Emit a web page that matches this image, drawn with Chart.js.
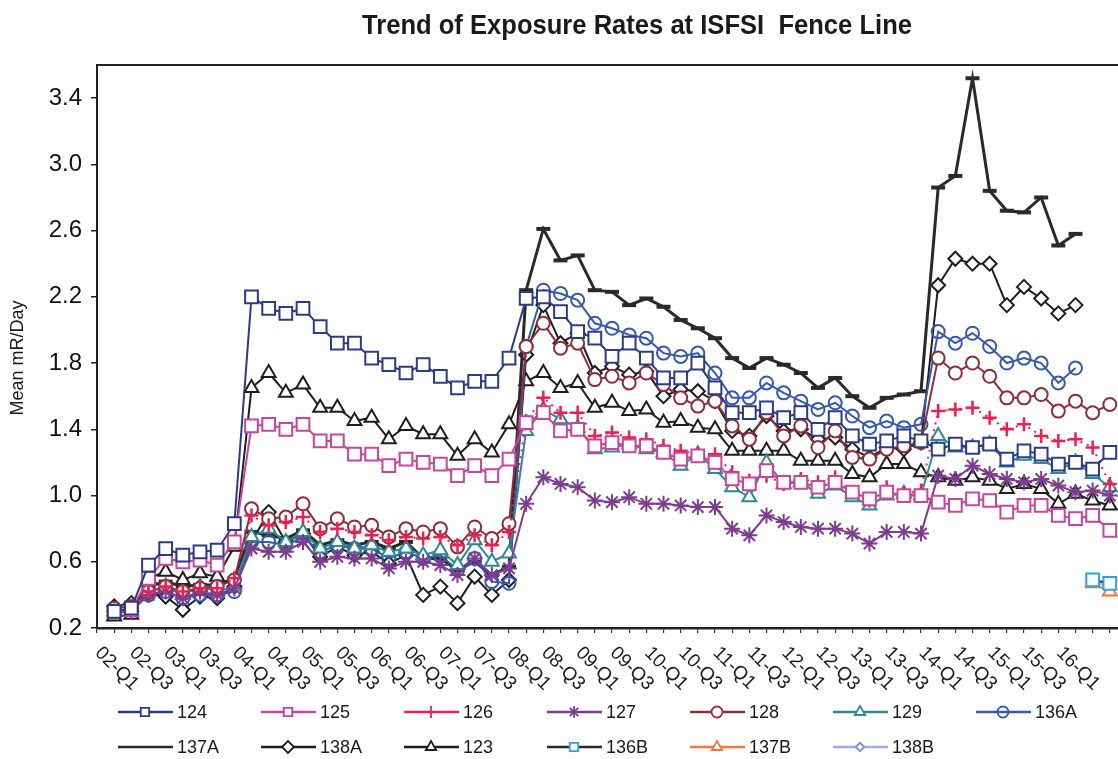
<!DOCTYPE html>
<html>
<head>
<meta charset="utf-8">
<script src="https://cdn.jsdelivr.net/npm/chart.js@4.4.1/dist/chart.umd.min.js"></script>
<style>
  html, body { margin: 0; padding: 0; background: #fff; overflow: hidden; }
  #wrap { position: relative; width: 1140px; height: 759px; }
</style>
</head>
<body>
<div id="wrap"><canvas id="chart"></canvas></div>
<script>
const chartTitle = 'Trend of Exposure Rates at ISFSI  Fence Line';
const yTitle = 'Mean mR/Day';

const quarters = [
  '02-Q1','02-Q2','02-Q3','02-Q4','03-Q1','03-Q2','03-Q3','03-Q4',
  '04-Q1','04-Q2','04-Q3','04-Q4','05-Q1','05-Q2','05-Q3','05-Q4',
  '06-Q1','06-Q2','06-Q3','06-Q4','07-Q1','07-Q2','07-Q3','07-Q4',
  '08-Q1','08-Q2','08-Q3','08-Q4','09-Q1','09-Q2','09-Q3','09-Q4',
  '10-Q1','10-Q2','10-Q3','10-Q4','11-Q1','11-Q2','11-Q3','11-Q4',
  '12-Q1','12-Q2','12-Q3','12-Q4','13-Q1','13-Q2','13-Q3','13-Q4',
  '14-Q1','14-Q2','14-Q3','14-Q4','15-Q1','15-Q2','15-Q3','15-Q4',
  '16-Q1','16-Q2','16-Q3','16-Q4','17-Q1'
];
const shownTicks = [
  '02-Q1','02-Q3','03-Q1','03-Q3','04-Q1','04-Q3','05-Q1','05-Q3','06-Q1','06-Q3',
  '07-Q1','07-Q3','08-Q1','08-Q3','09-Q1','09-Q3','10-Q1','10-Q3','11-Q1','11-Q3',
  '12-Q1','12-Q3','13-Q1','13-Q3','14-Q1','14-Q3','15-Q1','15-Q3','16-Q1'
];
const yTicks = [0.2, 0.6, 1.0, 1.4, 1.8, 2.2, 2.6, 3.0, 3.4];

// station series, one value per quarter (null = no reading)
const s124 = [null,
  0.30,0.32,0.58,0.68,0.64,0.66,0.67,0.83,
  2.20,2.13,2.10,2.13,2.02,1.92,1.92,1.83,1.79,1.74,1.79,1.72,1.65,1.69,1.69,
  1.83,2.19,2.20,2.11,1.99,1.95,1.84,1.92,1.83,1.71,1.71,1.80,1.65,1.50,1.50,1.53,1.47,1.50,1.40,1.47,1.36,1.31,1.33,1.36,1.33,
  1.28,1.31,1.29,1.31,1.22,1.27,1.25,1.19,1.20,1.16,1.26, null];
const s125 = [null,
  0.30,0.31,0.50,0.62,0.60,0.61,0.58,0.72,
  1.42,1.43,1.40,1.43,1.33,1.33,1.25,1.25,1.18,1.22,1.20,1.19,1.12,1.18,1.12,
  1.22,1.44,1.50,1.39,1.40,1.30,1.32,1.30,1.30,1.26,1.22,1.24,1.20,1.10,1.07,1.15,1.08,1.08,1.05,1.08,1.02,0.98,1.02,1.00,1.00,
  0.96,0.94,0.98,0.97,0.90,0.94,0.94,0.88,0.86,0.88,0.79, null];
const s126 = [null,
  0.30,0.31,0.42,0.45,0.42,0.44,0.44,0.50,
  0.88,0.82,0.84,0.87,0.78,0.80,0.78,0.76,0.73,0.75,0.74,0.75,0.70,0.76,0.70,
  0.78,1.45,1.59,1.50,1.50,1.36,1.38,1.35,1.34,1.30,1.27,1.25,1.25,1.14,1.09,1.12,1.07,1.10,1.08,1.11,1.02,0.97,1.05,1.01,1.03,
  1.51,1.52,1.53,1.47,1.40,1.43,1.36,1.33,1.34,1.29,1.07, null];
const s127 = [null,
  0.30,0.30,0.40,0.42,0.38,0.42,0.40,0.44,
  0.68,0.66,0.66,0.72,0.60,0.63,0.62,0.62,0.56,0.60,0.60,0.58,0.52,0.62,0.52,
  0.56,0.95,1.11,1.07,1.05,0.97,0.96,0.99,0.95,0.95,0.94,0.93,0.93,0.80,0.76,0.88,0.84,0.81,0.80,0.80,0.77,0.71,0.78,0.78,0.77,
  1.12,1.10,1.18,1.13,1.10,1.08,1.10,1.06,1.02,1.03,1.00, null];
const s128 = [null,
  0.32,0.33,0.42,0.45,0.42,0.44,0.45,0.49,
  0.92,0.86,0.87,0.95,0.80,0.86,0.81,0.82,0.75,0.80,0.78,0.80,0.69,0.81,0.74,
  0.83,1.90,2.04,1.89,1.92,1.70,1.72,1.68,1.74,1.67,1.59,1.54,1.57,1.42,1.34,1.50,1.36,1.42,1.29,1.39,1.23,1.22,1.28,1.30,1.32,
  1.83,1.74,1.80,1.72,1.59,1.59,1.61,1.51,1.57,1.50,1.55, null];
const s129 = [null,
  0.30,0.30,0.42,0.45,0.40,0.45,0.42,0.45,
  0.75,0.80,0.72,0.78,0.68,0.72,0.68,0.70,0.66,0.68,0.64,0.67,0.58,0.73,0.60,
  0.65,1.39,1.52,1.46,1.41,1.28,1.29,1.31,1.28,1.26,1.18,1.25,1.16,1.05,0.99,1.20,1.07,1.08,1.01,1.06,0.99,0.94,1.00,1.01,1.00,
  1.36,1.29,1.29,1.31,1.20,1.24,1.22,1.16,1.20,1.13,1.05, null];
const s136A = [null,
  0.30,0.32,0.40,0.42,0.38,0.40,0.40,0.42,
  0.72,0.72,0.70,0.75,0.66,0.70,0.68,0.68,0.62,0.66,0.62,0.64,0.55,0.62,0.48,
  0.47,1.90,2.24,2.22,2.18,2.04,2.01,1.97,1.95,1.86,1.84,1.86,1.74,1.59,1.59,1.68,1.62,1.57,1.52,1.56,1.48,1.41,1.45,1.41,1.43,
  1.99,1.92,1.98,1.90,1.80,1.83,1.80,1.68,1.77, null, null, null];
const s137A = [null,
  0.30,0.30,0.45,0.48,0.45,0.46,0.46,0.50,
  0.78,0.76,0.74,0.79,0.70,0.73,0.70,0.72,0.68,0.72,0.62,0.62,0.55,0.60,0.52,
  0.57,2.24,2.61,2.42,2.45,2.24,2.23,2.15,2.19,2.14,2.06,2.01,1.95,1.83,1.77,1.83,1.79,1.74,1.65,1.71,1.60,1.53,1.59,1.61,1.63,
  2.86,2.93,3.52,2.84,2.72,2.71,2.80,2.51,2.58, null, null, null];
const s138A = [null,
  0.33,0.35,0.41,0.39,0.31,0.39,0.38,0.45,
  0.72,0.90,0.72,0.77,0.63,0.69,0.64,0.66,0.59,0.64,0.40,0.45,0.35,0.51,0.40,
  0.49,1.85,2.15,1.92,1.98,1.74,1.78,1.73,1.75,1.60,1.64,1.63,1.57,1.39,1.36,1.48,1.39,1.40,1.34,1.35,1.28,1.23,1.29,1.28,1.32,
  2.27,2.43,2.40,2.40,2.15,2.26,2.19,2.10,2.15, null, null, null];
const s123 = [null,
  0.27,0.28,0.50,0.54,0.49,0.53,0.51,0.69,
  1.65,1.74,1.62,1.67,1.53,1.53,1.45,1.47,1.34,1.42,1.37,1.37,1.24,1.34,1.26,
  1.43,1.69,1.74,1.65,1.68,1.53,1.56,1.51,1.52,1.44,1.45,1.41,1.40,1.27,1.27,1.27,1.27,1.21,1.21,1.21,1.13,1.11,1.19,1.19,1.14,
  1.11,1.09,1.11,1.09,1.04,1.07,1.04,0.95,1.01,0.97,0.94, null];
// new stations, only the last two quarters
const lateQuarters = ['16-Q3', '16-Q4'];
const s136B = [0.49, 0.47];
const s137B = [0.47, 0.42];
const s138B = [0.49, 0.44];

function late(values) {
  return values.map((v, i) => ({ x: lateQuarters[i], y: v }));
}

function series(label, data, color, pointStyle, radius, extra) {
  return Object.assign({
    label: label,
    data: data,
    borderColor: color,
    borderWidth: 2,
    pointStyle: pointStyle,
    pointRadius: radius,
    pointBorderColor: color,
    pointBackgroundColor: '#ffffff',
    pointBorderWidth: 2,
    fill: false,
    tension: 0,
    spanGaps: false
  }, extra || {});
}

const datasets = [
  series('124', s124, '#2c3a8a', 'rect', 9),
  series('125', s125, '#c9449c', 'rect', 9),
  series('126', s126, '#ee1f4f', 'cross', 7, { borderDash: [2, 5], pointBorderWidth: 2.5 }),
  series('127', s127, '#7d3c90', 'star', 8),
  series('128', s128, '#8f2c3c', 'circle', 6.5),
  series('129', s129, '#2b8a92', 'triangle', 8),
  series('136A', s136A, '#3558b0', 'circle', 6.5, { pointBackgroundColor: 'rgba(0,0,0,0)' }),
  series('137A', s137A, '#2a2a2a', 'line', 7, { borderWidth: 3, pointBorderWidth: 4 }),
  series('138A', s138A, '#1e1e1e', 'rectRot', 7),
  series('123', s123, '#1e1e1e', 'triangle', 8),
  series('136B', late(s136B), '#2a2a2a', 'rect', 9, { pointBorderColor: '#2aa3e2' }),
  series('137B', late(s137B), '#f2773a', 'triangle', 8),
  series('138B', late(s138B), '#a3a8dc', 'rectRot', 5, { pointBorderColor: '#7f8ed0' })
];

const FONT = '"Liberation Sans", Arial, sans-serif';

const decorations = {
  id: 'decorations',
  afterDraw(chart) {
    const ctx = chart.ctx;
    const area = chart.chartArea;
    const xs = chart.scales.x;
    ctx.save();

    // top and right frame of the plot area
    ctx.strokeStyle = '#222';
    ctx.lineWidth = 2;
    ctx.beginPath();
    ctx.moveTo(area.left, area.top);
    ctx.lineTo(area.right, area.top);
    ctx.lineTo(area.right, area.bottom);
    ctx.stroke();

    // title, squeezed like a narrow face
    ctx.fillStyle = '#1a1a1a';
    ctx.font = 'bold 27px ' + FONT;
    const tw = ctx.measureText(chartTitle).width;
    ctx.save();
    ctx.translate(637, 34);
    ctx.scale(550 / tw, 1);
    ctx.textAlign = 'center';
    ctx.textBaseline = 'alphabetic';
    ctx.fillText(chartTitle, 0, 0);
    ctx.restore();

    // y axis title
    ctx.save();
    ctx.font = '18px ' + FONT;
    ctx.translate(18, 358);
    ctx.rotate(-Math.PI / 2);
    ctx.textAlign = 'center';
    ctx.textBaseline = 'middle';
    ctx.fillText(yTitle, 0, 0);
    ctx.restore();

    // x tick labels, slanted downwards
    ctx.font = '19px ' + FONT;
    shownTicks.forEach(lbl => {
      const x = xs.getPixelForValue(quarters.indexOf(lbl));
      ctx.save();
      ctx.translate(x + 1, area.bottom + 22);
      ctx.rotate(Math.PI / 4);
      ctx.textAlign = 'left';
      ctx.textBaseline = 'middle';
      ctx.fillText(lbl, 0, 0);
      ctx.restore();
    });

    // legend, two rows
    const rows = [712, 747];
    ctx.font = '18px ' + FONT;
    chart.data.datasets.forEach((ds, i) => {
      const row = i < 7 ? 0 : 1;
      const col = i < 7 ? i : i - 7;
      const x0 = 118 + col * 143;
      const y = rows[row];
      ctx.strokeStyle = ds.borderColor;
      ctx.lineWidth = 2.5;
      ctx.setLineDash([]);
      ctx.beginPath();
      ctx.moveTo(x0, y);
      ctx.lineTo(x0 + 55, y);
      ctx.stroke();
      if (ds.label !== '137A' && Chart.helpers && Chart.helpers.drawPoint) {
        ctx.strokeStyle = ds.pointBorderColor;
        ctx.fillStyle = ds.pointBackgroundColor;
        ctx.lineWidth = 1.8;
        Chart.helpers.drawPoint(ctx, {
          pointStyle: ds.pointStyle,
          radius: Math.min(ds.pointRadius, 7) * 0.85,
          rotation: 0,
          borderWidth: 1.8
        }, x0 + 27, y);
      }
      ctx.fillStyle = '#1a1a1a';
      ctx.textAlign = 'left';
      ctx.textBaseline = 'middle';
      ctx.fillText(ds.label, x0 + 59, y + 1);
    });

    ctx.restore();
  }
};

new Chart(document.getElementById('chart'), {
  type: 'line',
  data: { labels: quarters, datasets: datasets },
  options: {
    responsive: true,
    maintainAspectRatio: false,
    animation: false,
    layout: { padding: { top: 65, right: 13, left: 0, bottom: 0 } },
    plugins: {
      legend: { display: false },
      title: { display: false },
      tooltip: { enabled: false }
    },
    scales: {
      x: {
        type: 'category',
        offset: false,
        grid: { drawOnChartArea: false, drawTicks: true, tickLength: 5, color: '#333', lineWidth: 1.2 },
        border: { display: true, color: '#222', width: 2.5 },
        ticks: { display: false },
        afterFit(scale) { scale.height = 131; }
      },
      y: {
        min: 0.2,
        max: 3.6,
        afterBuildTicks(scale) { scale.ticks = yTicks.map(v => ({ value: v })); },
        grid: { drawOnChartArea: false, drawTicks: true, tickLength: 6, color: '#222', lineWidth: 1.5 },
        border: { display: true, color: '#222', width: 2 },
        ticks: {
          color: '#111',
          padding: 9,
          font: { family: FONT, size: 24 },
          callback: v => v.toFixed(1)
        },
        afterFit(scale) { scale.width = 97; }
      }
    }
  },
  plugins: [decorations]
});
</script>
</body>
</html>
